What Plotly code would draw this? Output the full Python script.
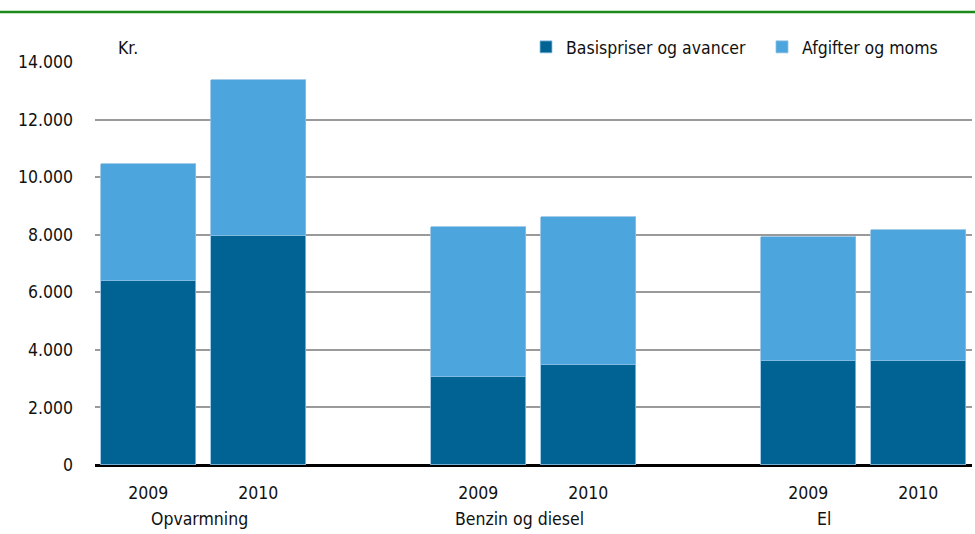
import plotly.graph_objects as go

groups = ["Opvarmning", "Benzin og diesel", "El"]
slot_pos = [0, 1, 3, 4, 6, 7]
year_labels = ["2009", "2010", "2009", "2010", "2009", "2010"]
basis = [6400, 7970, 3060, 3460, 3620, 3620]
afgifter_total = [10470, 13380, 8280, 8600, 7930, 8170]
afgifter = [t - b for t, b in zip(afgifter_total, basis)]
series_names = ["Basispriser og avancer", "Afgifter og moms"]
y_ticks = [0, 2000, 4000, 6000, 8000, 10000, 12000, 14000]

FONT = "DejaVu Sans Condensed"
FS = 17.5
DARK = "#006394"
LIGHT = "#4ca5dc"

fig = go.Figure()
fig.add_trace(go.Bar(x=slot_pos, y=basis, name=series_names[0], width=0.866,
                     marker=dict(color=DARK, line=dict(color="#8fc1e3", width=0.8))))
fig.add_trace(go.Bar(x=slot_pos, y=afgifter, name=series_names[1], width=0.866,
                     marker=dict(color=LIGHT, line=dict(color="#8fc1e3", width=0.8))))

group_x = [0.467, 3.375, 6.14]
for g, gx in zip(groups, group_x):
    fig.add_annotation(x=gx, y=-(519 - 464.7) / 402.7, xref="x", yref="paper", text=g,
                       showarrow=False, xanchor="center", yanchor="middle",
                       font=dict(size=FS, color="#111"))

fig.add_annotation(x=(116 - 95) / 877, y=1 + (62 - 48) / 402.7, xref="paper", yref="paper",
                   text="Kr.", showarrow=False, xanchor="left", yanchor="middle",
                   font=dict(size=FS, color="#111"))

fig.add_shape(type="line", xref="paper", yref="paper",
              x0=-95 / 877, x1=1 + 3 / 877, y0=1 + (62 - 12) / 402.7, y1=1 + (62 - 12) / 402.7,
              line=dict(color="#1b8a1b", width=2.5))

fig.update_layout(
    barmode="stack",
    width=975, height=534,
    margin=dict(l=95, r=3, t=62, b=69, autoexpand=False),
    plot_bgcolor="white", paper_bgcolor="white",
    separators=",.",
    font=dict(family=FONT, size=FS, color="#111"),
    showlegend=True,
    legend=dict(orientation="h", x=(526 - 95) / 877, y=1 + (62 - 47) / 402.7,
                xanchor="left", yanchor="middle", font=dict(size=FS),
                entrywidth=191, entrywidthmode="pixels", traceorder="normal",
                bgcolor="rgba(0,0,0,0)"),
    bargap=0,
)
fig.update_xaxes(range=[-0.485, 7.488], tickmode="array", tickvals=slot_pos,
                 ticktext=year_labels, showgrid=False, zeroline=False, showline=False,
                 ticks="", ticklabelstandoff=15, tickfont=dict(size=FS))
fig.update_yaxes(range=[0, 14000], tickmode="array", tickvals=y_ticks, tickformat=",d",
                 showgrid=True, gridcolor="#9a9a9a", gridwidth=1.5,
                 zeroline=True, zerolinecolor="#000", zerolinewidth=2.5,
                 showline=False, ticks="", ticklabelstandoff=21, tickfont=dict(size=FS))
fig.write_html("out.html", config={"displayModeBar": False},
               post_script="document.body.style.margin='0';")
